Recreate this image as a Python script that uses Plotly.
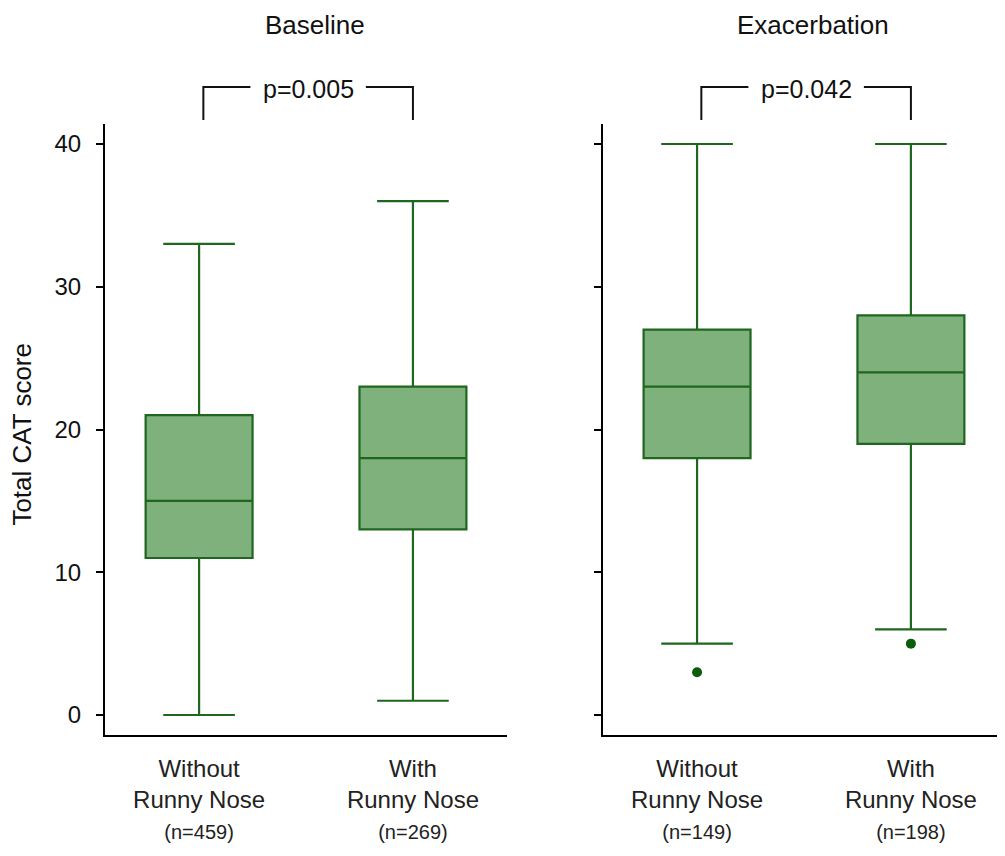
import plotly.graph_objects as go

# ---------------- data ----------------
categories = ["Without<br>Runny Nose", "With<br>Runny Nose"]
cat_pos = [0, 1]
n_baseline = [459, 269]
n_exacerbation = [149, 198]

base_lower = [0, 1]
base_q1 = [11, 13]
base_median = [15, 18]
base_q3 = [21, 23]
base_upper = [33, 36]

exac_lower = [5, 6]
exac_q1 = [18, 19]
exac_median = [23, 24]
exac_q3 = [27, 28]
exac_upper = [40, 40]

exac_outlier_x = [0, 1]
exac_outlier_y = [3, 5]

panel_titles = ["Baseline", "Exacerbation"]
p_values = ["p=0.005", "p=0.042"]
y_ticks = [0, 10, 20, 30, 40]

# ---------------- style ----------------
FONT = "Liberation Sans, Arial, Helvetica, sans-serif"
FILL = "#7fb17c"
LINE = "#1f661f"
DOT = "#0b5c0b"


def ticktext(ns):
    return [f"{c}<br><span style='font-size:20px'>(n={n})</span>" for c, n in zip(categories, ns)]


fig = go.Figure()

fig.add_trace(go.Box(
    x=cat_pos, q1=base_q1, median=base_median, q3=base_q3,
    lowerfence=base_lower, upperfence=base_upper,
    width=0.5, whiskerwidth=0.67, boxpoints=False,
    fillcolor=FILL, line=dict(color=LINE, width=2.2),
    xaxis="x", yaxis="y", showlegend=False, hoverinfo="y",
))
fig.add_trace(go.Box(
    x=cat_pos, q1=exac_q1, median=exac_median, q3=exac_q3,
    lowerfence=exac_lower, upperfence=exac_upper,
    width=0.5, whiskerwidth=0.67, boxpoints=False,
    fillcolor=FILL, line=dict(color=LINE, width=2.2),
    xaxis="x2", yaxis="y2", showlegend=False, hoverinfo="y",
))
fig.add_trace(go.Scatter(
    x=exac_outlier_x, y=exac_outlier_y, mode="markers",
    marker=dict(color=DOT, size=10), xaxis="x2", yaxis="y2", showlegend=False,
))

xr = [-0.44, 1.44]
yr = [-1.4, 41.4]
common_x = dict(range=xr, showline=True, linecolor="black", linewidth=2,
                ticks="", showgrid=False, zeroline=False, tickvals=cat_pos,
                tickfont=dict(family=FONT, size=24, color="#222"),
                ticklabelstandoff=11, automargin=False, fixedrange=True)
common_y = dict(range=yr, showline=True, linecolor="black", linewidth=2,
                ticks="outside", ticklen=7, tickwidth=2, tickcolor="black",
                tickvals=y_ticks, showgrid=False, zeroline=False,
                tickfont=dict(family=FONT, size=24, color="#111"),
                ticklabelstandoff=10, automargin=False, fixedrange=True)

# The page body has an 8px default margin; the figure is sized to compensate.
fig.update_layout(
    width=997, height=848,
    margin=dict(l=97, r=0, t=116, b=121, autoexpand=False),
    paper_bgcolor="white", plot_bgcolor="white",
    font=dict(family=FONT, color="#111"),
    xaxis=dict(domain=[0, 0.4467], anchor="y", ticktext=ticktext(n_baseline), **common_x),
    xaxis2=dict(domain=[0.5533, 1.0], anchor="y2", ticktext=ticktext(n_exacerbation), **common_x),
    yaxis=dict(domain=[0, 1], anchor="x", **common_y),
    yaxis2=dict(domain=[0, 1], anchor="x2", showticklabels=False, **common_y),
)

annotations = []
shapes = []
for i, (xref, title, pv) in enumerate(zip(["x", "x2"], panel_titles, p_values)):
    annotations.append(dict(text=title, xref=xref, yref="paper", x=0.54, y=1.162,
                            showarrow=False, font=dict(family=FONT, size=26, color="#111"),
                            xanchor="center", yanchor="middle"))
    annotations.append(dict(text=pv, xref=xref, yref="paper", x=0.51, y=1.057,
                            showarrow=False, font=dict(family=FONT, size=25, color="#111"),
                            xanchor="center", yanchor="middle"))
    x0, x1 = cat_pos
    x0 += 0.02
    gap = 0.27
    shapes.append(dict(type="path", xref=xref, yref="paper",
                       path=f"M {x0} 1.0065 L {x0} 1.0606 L {0.51 - gap} 1.0606",
                       line=dict(color="#111", width=2)))
    shapes.append(dict(type="path", xref=xref, yref="paper",
                       path=f"M {0.51 + gap} 1.0606 L {x1} 1.0606 L {x1} 1.0065",
                       line=dict(color="#111", width=2)))

annotations.append(dict(text="Total CAT score", xref="paper", yref="paper",
                        x=-0.092, y=0.492, textangle=-90, showarrow=False,
                        font=dict(family=FONT, size=26, color="#111"),
                        xanchor="center", yanchor="middle"))

fig.update_layout(annotations=annotations, shapes=shapes)

fig.write_html("out.html")
